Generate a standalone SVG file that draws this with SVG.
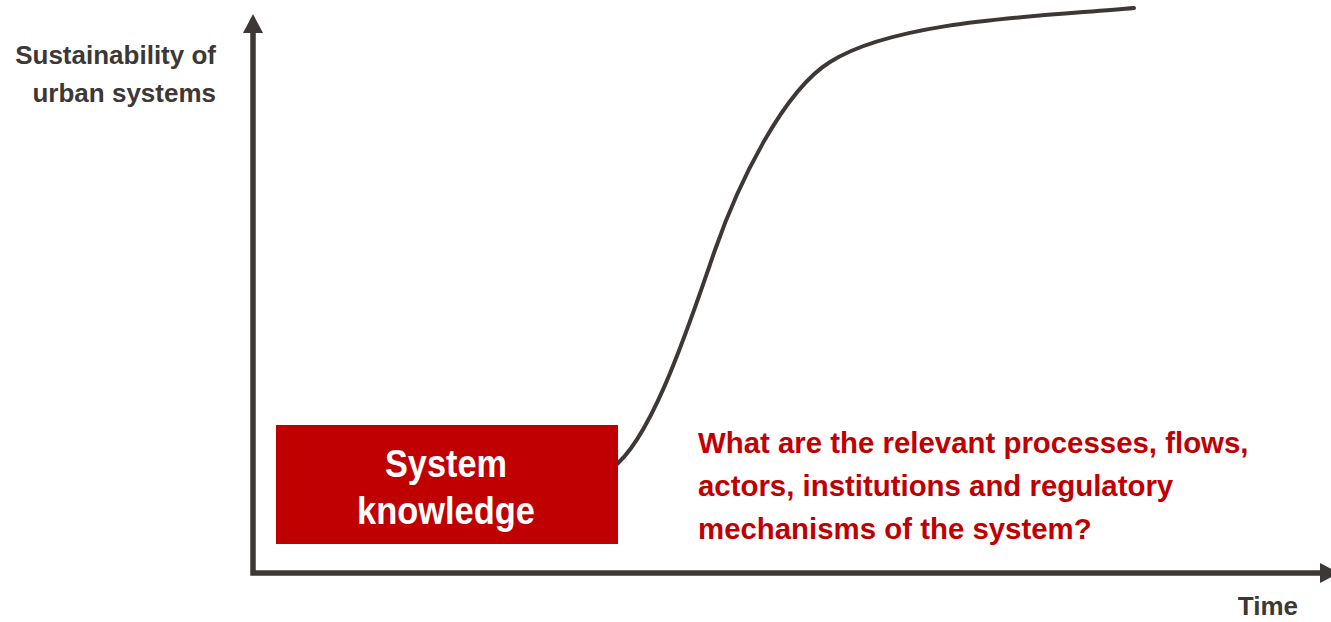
<svg xmlns="http://www.w3.org/2000/svg" width="1331" height="622" viewBox="0 0 1331 622">
  <style>
    .axis { fill: none; stroke: #3d3835; stroke-width: 5.5; stroke-linejoin: miter; }
    .curve { fill: none; stroke: #3d3835; stroke-width: 4; stroke-linecap: round; }
    .lbl { font-family: "Liberation Sans", Arial, sans-serif; font-weight: bold; fill: #3d3835; font-size: 26px; }
    .box { fill: #c00000; }
    .boxtxt { font-family: "Liberation Sans", Arial, sans-serif; font-weight: bold; fill: #ffffff; font-size: 38px; text-anchor: middle; }
    .q { font-family: "Liberation Sans", Arial, sans-serif; font-weight: bold; fill: #c00000; font-size: 29.4px; }
  </style>
  <defs>
    <marker id="arrow" markerUnits="userSpaceOnUse" markerWidth="20" markerHeight="20" refX="0" refY="10" orient="auto-start-reverse" viewBox="0 0 20 20">
      <path d="M0,0 L19,10 L0,20 Z" fill="#3d3835"/>
    </marker>
  </defs>
  <rect width="1331" height="622" fill="#ffffff"/>

  <g id="connectors">
    <path id="axes" class="axis" d="M253,33 L253,573 L1320,573" marker-start="url(#arrow)" marker-end="url(#arrow)"/>
    <path id="s-curve" class="curve" d="M612,468 C652,440 690,322 715,250 C738,184 783,91 830,62 C898,19 1050,16 1134,8"/>
  </g>

  <g id="y-label">
    <text class="lbl" x="216" y="64" text-anchor="end">Sustainability of</text>
    <text class="lbl" x="216" y="102" text-anchor="end">urban systems</text>
  </g>

  <g id="x-label">
    <text class="lbl" x="1298" y="615" text-anchor="end">Time</text>
  </g>

  <g id="system-knowledge">
    <rect class="box" x="276" y="425" width="342" height="119"/>
    <text class="boxtxt" x="446" y="477" textLength="122" lengthAdjust="spacingAndGlyphs">System</text>
    <text class="boxtxt" x="446" y="524" textLength="178" lengthAdjust="spacingAndGlyphs">knowledge</text>
  </g>

  <g id="question">
    <text class="q" x="698" y="453">What are the relevant processes, flows,</text>
    <text class="q" x="698" y="496">actors, institutions and regulatory</text>
    <text class="q" x="698" y="539">mechanisms of the system?</text>
  </g>
</svg>
